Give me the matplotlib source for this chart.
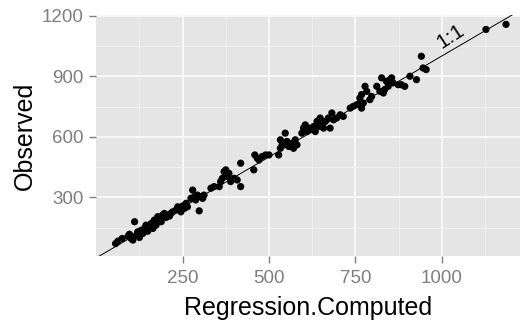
import matplotlib
matplotlib.use("Agg")
import matplotlib.pyplot as plt
import numpy as np

plt.rcParams['font.family'] = ['Liberation Sans', 'DejaVu Sans']

# Regression-computed vs observed values
computed = [56, 63, 75, 92, 96, 101, 106, 111, 116, 120, 125, 130, 135, 140, 144,
            149, 154, 159, 164, 168, 173, 178, 183, 188, 192, 197, 202, 207, 212,
            216, 221, 231, 236, 240, 245, 250, 255, 260, 264, 279, 274, 284, 288,
            293, 298, 303, 308, 312, 332, 341, 356, 360, 365, 370, 375, 380, 384,
            389, 399, 408, 418, 418, 456, 459, 466, 471, 480, 490, 500, 528, 533,
            533, 538, 547, 552, 557, 567, 571, 576, 581, 595, 600, 605, 610, 615,
            620, 629, 634, 639, 644, 648, 653, 658, 663, 672, 677, 682, 687, 696,
            706, 715, 735, 744, 754, 764, 768, 763, 768, 773, 778, 783, 792, 797,
            812, 821, 826, 831, 835, 840, 845, 850, 855, 859, 874, 883, 893, 908,
            927, 941, 946, 955, 1128, 1186]
observed = [71, 83, 96, 107, 117, 96, 88, 179, 112, 129, 101, 137, 121, 146, 162,
            132, 154, 170, 146, 187, 162, 204, 195, 179, 212, 220, 200, 212, 207,
            220, 228, 237, 253, 245, 228, 257, 245, 270, 253, 336, 295, 303, 287,
            311, 233, 303, 295, 311, 345, 353, 353, 378, 394, 427, 436, 403, 419,
            378, 394, 386, 469, 353, 436, 510, 494, 485, 502, 510, 510, 510, 543,
            585, 560, 618, 577, 552, 568, 543, 585, 560, 618, 643, 659, 626, 643,
            635, 651, 626, 676, 651, 693, 659, 643, 676, 693, 643, 718, 684, 693,
            709, 701, 742, 751, 759, 767, 742, 792, 809, 767, 850, 825, 784, 800,
            850, 825, 892, 817, 834, 875, 850, 883, 892, 867, 858, 858, 850, 900,
            883, 999, 941, 933, 1132, 1157]

x_ticks = [250, 500, 750, 1000]
y_ticks = [300, 600, 900, 1200]

fig = plt.figure(figsize=(5.24, 3.28), dpi=100)
ax = fig.add_axes([0.183, 0.220, 0.809, 0.734])
ax.set_facecolor('#E5E5E5')
for s in ax.spines.values():
    s.set_visible(False)

ax.set_xlim(-1, 1226)
ax.set_ylim(10, 1203)

ax.set_xticks(x_ticks)
ax.set_yticks(y_ticks)
ax.set_xticks([125, 375, 625, 875, 1125], minor=True)
ax.set_yticks([150, 450, 750, 1050], minor=True)
ax.grid(which='major', color='white', lw=1.1)
ax.grid(which='minor', color='#F2F2F2', lw=0.6)
ax.set_axisbelow(True)
ax.tick_params(which='major', length=5, width=1, color='#7F7F7F',
               labelcolor='#7F7F7F', labelsize=13.5)
ax.tick_params(axis='x', pad=5)
ax.tick_params(axis='y', pad=4)
ax.tick_params(which='minor', length=0)

# 1:1 reference line
ref = np.array([0, 1300])
ax.plot(ref, ref, color='black', lw=0.7, zorder=2)
ax.text(1026, 1097, '1:1', rotation=33, ha='center', va='center',
        rotation_mode='anchor', fontsize=15, color='black')

ax.scatter(computed, observed, s=27, color='black', edgecolors='none', zorder=3)

ax.set_xlabel('Regression.Computed', fontsize=18, labelpad=7)
ax.set_ylabel('Observed', fontsize=18, labelpad=3)

fig.savefig('out.png', dpi=100)
